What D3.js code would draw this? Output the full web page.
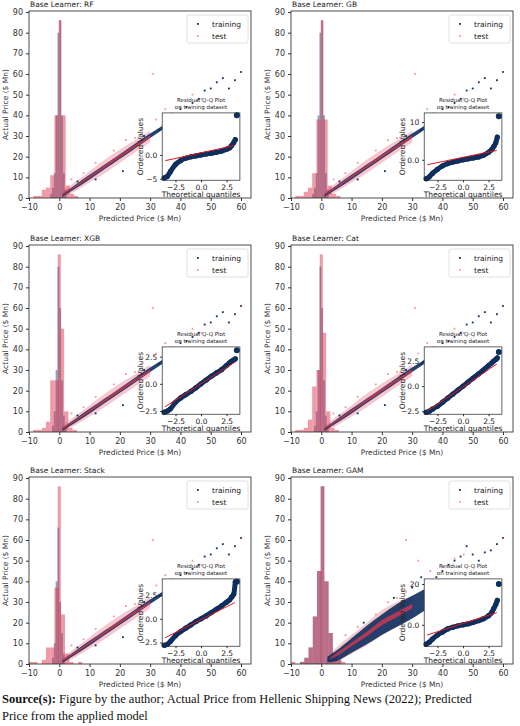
<!DOCTYPE html>
<html><head><meta charset="utf-8">
<script src="https://cdn.jsdelivr.net/npm/d3@7"></script>
<style>body{margin:0;background:#fff}svg{display:block}</style>
</head><body>
<svg id="c" width="520" height="726"></svg>
<script>
const learners = ["RF","GB","XGB","Cat","Stack","GAM"];
const xTicks = [-10,0,10,20,30,40,50,60];
const yTicks = [0,10,20,30,40,50,60,70,80,90];
const legendLabels = ["training","test"];
// histogram bins of residuals: [start, width, count]
const histTest = {
 RF:[[-8.6,1.4,1],[-7.2,1.4,1],[-5.8,1.4,4],[-4.4,1.4,5],[-3,1.4,11],[-1.6,1.4,40],[-0.2,0.9,86],[0.7,1.4,40],[2.1,1.4,6],[3.5,1.4,2],[4.9,1.4,1]],
 GB:[[-8.6,1.4,1],[-7.2,1.4,1],[-5.8,1.4,3],[-4.4,1.4,5],[-3,1.4,12],[-1.6,1.4,38],[-0.2,0.9,86],[0.7,1.4,38],[2.1,1.4,6],[3.5,1.4,2],[4.9,1.4,1]],
 XGB:[[-8.6,1.4,1],[-7.2,1.4,1],[-5.8,1.4,2],[-4.4,1.4,5],[-3,1.4,25],[-1.6,1.4,25],[-0.5,1,86],[0.5,1.1,50],[1.6,1.4,10],[3,1.4,2],[4.4,1.4,1]],
 Cat:[[-8.6,1.4,1],[-7.2,1.4,1],[-5.8,1.4,2],[-4.4,1.4,6],[-3,1.4,22],[-1.6,1.4,30],[-0.5,1,86],[0.5,1.1,48],[1.6,1.4,10],[3,1.4,2],[4.4,1.4,1]],
 Stack:[[-10,1.4,1],[-8.6,1.4,1],[-5.8,1.4,2],[-4.4,1.4,8],[-3,1.4,8],[-1.6,1.4,37],[-0.5,1,86],[0.5,1.4,24],[1.9,1.4,5],[3.3,1.4,1],[6.2,1.4,1]],
 GAM:[[-10,1.4,1],[-7,1.4,1],[-5.6,1.4,3],[-4.2,1.4,8],[-2.8,1.4,23],[-1.4,1.4,45],[-0.2,1.2,86],[1,1.4,40],[2.4,1.4,15],[3.8,1.4,5],[5.2,1.4,2],[6.6,1.4,1]]
};
const histTrain = {
 RF:[[-3,0.6,2],[-2.4,0.6,5],[-1.8,0.6,12],[-1.2,0.6,40],[-0.6,0.6,80],[0,0.6,86],[0.6,0.6,40],[1.2,0.6,12],[1.8,0.6,4]],
 GB:[[-3,0.6,2],[-2.4,0.6,5],[-1.8,0.6,12],[-1.2,0.6,40],[-0.6,0.6,80],[0,0.6,86],[0.6,0.6,40],[1.2,0.6,12],[1.8,0.6,4]],
 XGB:[[-2.4,0.6,3],[-1.8,0.6,10],[-1.2,0.6,30],[-0.6,0.6,80],[0,0.6,60],[0.6,0.6,25],[1.2,0.6,8],[1.8,0.6,2]],
 Cat:[[-2.4,0.6,3],[-1.8,0.6,10],[-1.2,0.6,30],[-0.6,0.6,80],[0,0.6,60],[0.6,0.6,25],[1.2,0.6,8],[1.8,0.6,2]],
 Stack:[[-2.4,0.6,3],[-1.8,0.6,10],[-1.2,0.6,40],[-0.6,0.6,66],[0,0.6,30],[0.6,0.6,15],[1.2,0.6,5]],
 GAM:[[-7,1.4,1],[-5.6,1.4,3],[-4.2,1.4,8],[-2.8,1.4,23],[-1.4,1.4,45],[-0.2,1.2,86],[1,1.4,40],[2.4,1.4,15],[3.8,1.4,5],[5.2,1.4,2]]
};
// dense prediction bands: [predicted, actualLow, actualHigh]
const bandTrain = {
 tree:[[1,0.6,1.8],[5,4.2,6],[10,9,11.2],[15,14,16.2],[20,19,21.2],[25,24,26.3],[30,29,31.2],[35,34,35.8]],
 GAM:[[2,0.8,3.5],[5,1.5,6.5],[10,5.5,12.5],[15,9.5,18.5],[20,14,24],[25,18,29],[30,22,33],[35,27,37],[38,31,39.5]]
};
const bandTest = {
 tree:[[1,0,3],[5,3,7.5],[10,7.5,13],[15,12,18.5],[20,17,23.5],[25,22,28],[30,27,32.5]],
 GAM:[[3,0.5,5],[5,1,8],[10,5,14],[15,9,20],[20,14,26],[25,18,30],[30,23,33]]
};
// sparse points [predicted, actual]
const ptsTrain = {
 tree:[[36,37],[38,40],[40,43],[42,44],[44,46],[46,48],[48,52],[50,53],[52,56],[54,58],[56,53],[58,57],[60,61],[21,13],[33,33],[28,30],[12,9],[6,8],[37,38],[39,39]],
 GAM:[[36,40],[38,42],[40,45],[42,48],[44,50],[46,52],[48,57],[50,53],[52,50],[54,54],[56,55],[58,58],[60,61],[33,42],[35,30],[38,36],[30,37],[14,20],[24,32],[40,40]]
};
const ptsTest = {
 tree:[[31,60],[35,43],[37,41],[44,50],[47,48],[60,61],[25,29],[18,23],[22,28],[32,38],[12,17],[27,33],[8,12],[4,9],[40,44]],
 GAM:[[28,60],[32,50],[36,45],[44,51],[47,53],[60,61],[25,32],[18,24],[22,30],[34,28],[12,18],[28,35],[8,14],[40,47]]
};
// Q-Q inset: theoretical quantiles vs ordered residuals
const qqX = [-3.6,-3.3,-3,-2.5,-2,-1.5,-1,-0.5,0,0.5,1,1.5,2,2.5,2.8,3,3.2,3.35];
const qqY = {
 RF:[-4.8,-4.5,-3.5,-2,-1.2,-0.7,-0.4,-0.2,0,0.2,0.35,0.55,0.8,1.2,1.5,2,2.6,3.2],
 GB:[-5,-4.5,-3.6,-2.5,-1.6,-1,-0.6,-0.3,0,0.25,0.5,0.75,1.2,2,2.7,3.5,4.5,6],
 XGB:[-2.6,-2.5,-2.3,-1.7,-1.3,-1,-0.7,-0.35,0,0.35,0.7,1,1.3,1.7,1.95,2.1,2.2,2.3],
 Cat:[-2.6,-2.5,-2.3,-2,-1.6,-1.2,-0.8,-0.4,0,0.4,0.8,1.2,1.6,2.05,2.3,2.5,2.65,2.8],
 Stack:[-2.8,-2.7,-2.4,-1.8,-1.35,-1,-0.65,-0.3,0,0.3,0.65,1,1.35,1.75,2,2.3,2.6,3.9],
 GAM:[-9.5,-8.5,-7,-5,-3.5,-2,-1.2,-0.5,0,0.5,1.2,2,3,4.5,6,8,10,12]
};
const qqOutlier = {RF:[3.5,8.3],GB:[3.5,11.5],XGB:[3.5,3.1],Cat:[3.5,3.4],Stack:[3.5,3.9],GAM:[3.5,20]};
const qqLine = {RF:[-1.2,2],GB:[-1.3,2.5],XGB:[-2.1,2],Cat:[-2.5,2.2],Stack:[-2,1.7],GAM:[-5,6]};
const qqDomain = {RF:[-5.3,8.8],GB:[-5.4,12.4],XGB:[-2.8,3.4],Cat:[-2.8,3.9],Stack:[-2.9,4.2],GAM:[-10.5,22.5]};
const qqTicks = {RF:[-5,0],GB:[0,10],XGB:[-2.5,0,2.5],Cat:[-2.5,0,2.5],Stack:[-2.5,0,2.5],GAM:[0,20]};
const qqXTicks = [-2.5,0,2.5];

const svg = d3.select("#c");
const F = "DejaVu Sans, sans-serif";
const navy = "#0d2f5e", red = "#e0384f", histBlue = "#2a4f80";
const colLeft = [29, 291], rowTop = [11, 245, 477];
const W = 222, H = 187;

learners.forEach((name, i) => {
  const L = colLeft[i % 2], T = rowTop[Math.floor(i / 2)];
  const kind = name === "GAM" ? "GAM" : "tree";
  const g = svg.append("g").attr("transform", `translate(${L},${T})`);
  const x = d3.scaleLinear().domain([-10, 63.3]).range([0, W]);
  const y = d3.scaleLinear().domain([0, 90.5]).range([H, 0]);

  g.append("text").attr("x", 1).attr("y", -4).attr("font-family", F).attr("font-size", 7.5).attr("fill", "#222").text("Base Learner: " + name);

  const drawHist = (bins, col, op) => g.append("g").selectAll("rect").data(bins).join("rect")
    .attr("x", d => x(d[0])).attr("width", d => x(d[0] + d[1]) - x(d[0]))
    .attr("y", d => y(d[2])).attr("height", d => H - y(d[2]))
    .attr("fill", col).attr("fill-opacity", op);
  drawHist(histTrain[name], histBlue, name === "GAM" ? 0.5 : 0.55);
  drawHist(histTest[name], red, 0.5);

  const area = d3.area().x(d => x(d[0])).y0(d => y(d[1])).y1(d => y(d[2])).curve(d3.curveMonotoneX);
  g.append("path").datum(bandTest[kind]).attr("d", area).attr("fill", red).attr("fill-opacity", 0.28);
  g.append("path").datum(bandTrain[kind]).attr("d", area).attr("fill", navy).attr("fill-opacity", 0.9);
  g.append("path").datum(bandTest[kind].map(d => [d[0], (d[1] * 3 + d[2] * 2) / 5, (d[1] * 2 + d[2] * 3) / 5])).attr("d", area).attr("fill", red).attr("fill-opacity", 0.75);

  g.append("g").selectAll("rect").data(ptsTrain[kind]).join("rect")
    .attr("x", d => x(d[0]) - 0.9).attr("y", d => y(d[1]) - 0.9).attr("width", 1.8).attr("height", 1.8).attr("fill", navy);
  g.append("g").selectAll("rect").data(ptsTest[kind]).join("rect")
    .attr("x", d => x(d[0]) - 0.9).attr("y", d => y(d[1]) - 0.9).attr("width", 1.8).attr("height", 1.8).attr("fill", red).attr("fill-opacity", 0.5);

  g.append("rect").attr("width", W).attr("height", H).attr("fill", "none").attr("stroke", "#222").attr("stroke-width", 0.8);
  const ax = g.append("g").attr("transform", `translate(0,${H})`).call(d3.axisBottom(x).tickValues(xTicks).tickSize(3).tickFormat(d => d < 0 ? "\u2212" + (-d) : d));
  const ay = g.append("g").call(d3.axisLeft(y).tickValues(yTicks).tickSize(3));
  [ax, ay].forEach(a => { a.select(".domain").remove(); a.selectAll("text").attr("font-family", F).attr("font-size", 8).attr("fill", "#333"); a.selectAll("line").attr("stroke", "#333"); });
  g.append("text").attr("x", W / 2).attr("y", H + 23).attr("text-anchor", "middle").attr("font-family", F).attr("font-size", 7.5).attr("fill", "#333").text("Predicted Price ($ Mn)");
  g.append("text").attr("transform", `translate(-21,${H / 2}) rotate(-90)`).attr("text-anchor", "middle").attr("font-family", F).attr("font-size", 7.5).attr("fill", "#333").text("Actual Price ($ Mn)");

  const lg = g.append("g").attr("transform", `translate(${W - 64},4)`);
  lg.append("rect").attr("width", 61).attr("height", 28).attr("rx", 2).attr("fill", "#fff").attr("fill-opacity", 0.8).attr("stroke", "#ccc").attr("stroke-width", 0.6);
  legendLabels.forEach((t, k) => {
    lg.append("rect").attr("x", 10).attr("y", 8 + k * 12).attr("width", 1.8).attr("height", 1.8).attr("fill", k ? red : navy).attr("fill-opacity", k ? 0.5 : 1);
    lg.append("text").attr("x", 25).attr("y", 11.5 + k * 12).attr("font-family", F).attr("font-size", 7.5).attr("fill", "#222").text(t);
  });

  const iL = 0.6 * W, iT = 0.545 * H, iW = 0.35 * W, iH = 0.36 * H;
  const ig = g.append("g").attr("transform", `translate(${iL},${iT})`);
  const qx = d3.scaleLinear().domain([-3.8, 3.8]).range([0, iW]);
  const qy = d3.scaleLinear().domain(qqDomain[name]).range([iH, 0]);
  ig.append("rect").attr("width", iW).attr("height", iH).attr("fill", "#fff");
  const pts = qqX.map((v, k) => [v, qqY[name][k]]);
  ig.append("path").datum(pts).attr("d", d3.line().x(d => qx(d[0])).y(d => qy(d[1])).curve(d3.curveMonotoneX))
    .attr("fill", "none").attr("stroke", navy).attr("stroke-width", 5).attr("stroke-linecap", "round");
  ig.append("g").selectAll("circle").data(pts).join("circle").attr("cx", d => qx(d[0])).attr("cy", d => qy(d[1])).attr("r", 2.6).attr("fill", navy);
  ig.append("circle").attr("cx", qx(qqOutlier[name][0])).attr("cy", qy(qqOutlier[name][1])).attr("r", 3).attr("fill", navy);
  ig.append("line").attr("x1", qx(-3.5)).attr("x2", qx(3.3)).attr("y1", qy(qqLine[name][0])).attr("y2", qy(qqLine[name][1])).attr("stroke", "#e8141c").attr("stroke-width", 1);
  ig.append("rect").attr("width", iW).attr("height", iH).attr("fill", "none").attr("stroke", "#222").attr("stroke-width", 0.7);
  const iax = ig.append("g").attr("transform", `translate(0,${iH})`).call(d3.axisBottom(qx).tickValues(qqXTicks).tickSize(2).tickFormat(d => (d < 0 ? "\u2212" : "") + Math.abs(d).toFixed(1)));
  const iay = ig.append("g").call(d3.axisLeft(qy).tickValues(qqTicks[name]).tickSize(2).tickFormat(d => (d < 0 ? "\u2212" : "") + (Number.isInteger(d) && Math.abs(d) >= 5 ? Math.abs(d) : Math.abs(d).toFixed(1))));
  [iax, iay].forEach(a => { a.select(".domain").remove(); a.selectAll("text").attr("font-family", F).attr("font-size", 7.5).attr("fill", "#222"); a.selectAll("line").attr("stroke", "#222"); });
  iax.selectAll("text").attr("dy", "0.6em");
  ig.append("text").attr("x", iW / 2).attr("y", iH + 17).attr("text-anchor", "middle").attr("font-family", F).attr("font-size", 7.5).attr("fill", "#222").text("Theoretical quantiles");
  ig.append("text").attr("transform", `translate(-19,${iH / 2}) rotate(-90)`).attr("text-anchor", "middle").attr("font-family", F).attr("font-size", 7.5).attr("fill", "#222").text("Ordered Values");
  ig.append("text").attr("x", iW / 2).attr("y", -11).attr("text-anchor", "middle").attr("font-family", F).attr("font-size", 5.5).attr("fill", "#222").text("Residual Q-Q Plot");
  ig.append("text").attr("x", iW / 2).attr("y", -4).attr("text-anchor", "middle").attr("font-family", F).attr("font-size", 5.5).attr("fill", "#222").text("on training dataset");
});

const cap = svg.append("g").attr("font-family", "Liberation Serif, Times New Roman, serif").attr("font-size", 12.5).attr("fill", "#111");
const t1 = cap.append("text").attr("x", 2).attr("y", 703);
t1.append("tspan").attr("font-weight", "bold").text("Source(s):");
t1.append("tspan").text(" Figure by the author; Actual Price from Hellenic Shipping News (2022); Predicted");
cap.append("text").attr("x", 2).attr("y", 720).text("Price from the applied model");
</script>
</body></html>
